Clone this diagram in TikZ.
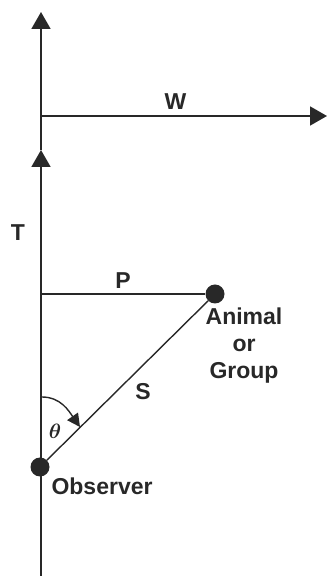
\documentclass[tikz,border=0pt]{standalone}
\usepackage{fontspec}
\usepackage{bm}
\setmainfont{Liberation Sans}
\usetikzlibrary{arrows.meta}
\definecolor{ink}{RGB}{40,40,40}
\tikzset{
  axisline/.style={ink,line width=1.8pt,-{Triangle[width=19pt,length=17pt]}},
  thinline/.style={ink,line width=1.4pt},
  dot/.style={circle,fill=ink,inner sep=0pt,minimum size=19pt},
  lbl/.style={ink,font=\fontsize{23}{27}\selectfont\bfseries},
}
\begin{document}
\begin{tikzpicture}[x=1pt,y=1pt]
    \useasboundingbox (0,0) rectangle (330,576);
    % axes
    \coordinate (bottom) at (41,0);
    \coordinate (origin) at (41,460);
    \coordinate (ttip) at (41,426);
    \coordinate (top) at (41,564);
    \coordinate (wtip) at (327,460);
    \coordinate (pfoot) at (41,282);
    \draw[axisline] (bottom) -- (ttip);
    \draw[axisline] (ttip) -- (top);
    \draw[axisline] (origin) -- (wtip) node[lbl,pos=0.47,above=2pt] (wlabel) {W};
    \node[lbl] (tlabel) at (18,343) {T};
    % observer and animal
    \node[dot] (animal) at (215,282) {};
    \node[dot] (observer) at (40,109) {};
    \draw[thinline] (pfoot) -- (animal) node[lbl,pos=0.5,above=1pt] (plabel) {P};
    \draw[thinline] (observer) -- (animal);
    \node[lbl] (slabel) at (143,184) {S};
    \node[lbl,align=center,anchor=north] (animaltext) at (244,272) {Animal\\or\\Group};
    \node[lbl,anchor=west] (obstext) at (48,90) {Observer};
    % angle
    \coordinate (arcstart) at (42,179);
    \coordinate (arcend) at (80,149);
    \draw[ink,line width=1.4pt,-{Triangle[width=13pt,length=13pt]}] (arcstart) to[out=0,in=125] (arcend);
    \node[ink,font=\fontsize{22}{26}\selectfont] (theta) at (55,145) {$\bm{\theta}$};
\end{tikzpicture}
\end{document}
